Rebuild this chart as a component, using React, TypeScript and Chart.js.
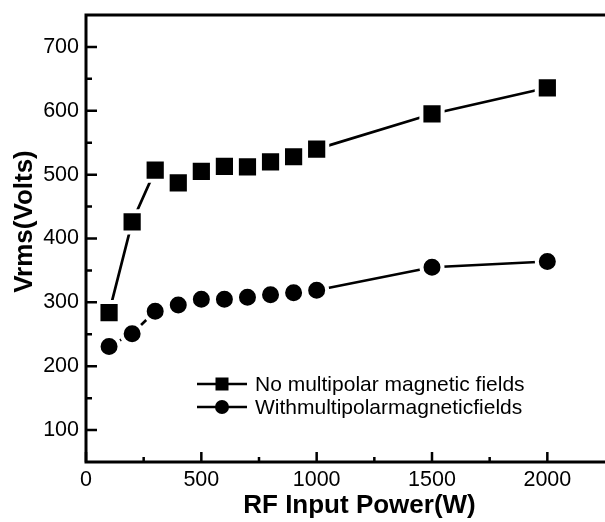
import React, { useEffect, useRef } from "react";
import { Chart, registerables } from "chart.js";

Chart.register(...registerables);

const powerW = [100, 200, 300, 400, 500, 600, 700, 800, 900, 1000, 1500, 2000];
const noMultipolar = [284, 426, 507, 487, 505, 513, 512, 520, 528, 540, 595, 636];
const withMultipolar = [231, 251, 286, 296, 305, 305, 308, 312, 315, 319, 355, 364];
const xMajorTicks = [0, 500, 1000, 1500, 2000];
const xMinorTicks = [250, 750, 1250, 1750];
const yMajorTicks = [100, 200, 300, 400, 500, 600, 700];
const yMinorTicks = [150, 250, 350, 450, 550, 650];
const seriesLabels = ["No multipolar magnetic fields", "Withmultipolarmagneticfields"];
const xTitle = "RF Input Power(W)";
const yTitle = "Vrms(Volts)";

const FONT = "'Liberation Sans', Arial, Helvetica, sans-serif";

const framePlugin = {
  id: "frame",
  afterDraw(chart: any) {
    const { ctx, chartArea, scales } = chart;
    const { left, right, top, bottom } = chartArea;
    const xs = scales.x;
    const ys = scales.y;
    ctx.save();
    ctx.strokeStyle = "#000";
    ctx.lineCap = "butt";
    // ticks (inward)
    ctx.lineWidth = 2.5;
    ctx.beginPath();
    xMajorTicks.forEach((v) => {
      const px = xs.getPixelForValue(v);
      ctx.moveTo(px, bottom);
      ctx.lineTo(px, bottom - 10);
    });
    xMinorTicks.forEach((v) => {
      const px = xs.getPixelForValue(v);
      ctx.moveTo(px, bottom);
      ctx.lineTo(px, bottom - 5);
    });
    yMajorTicks.forEach((v) => {
      const py = ys.getPixelForValue(v);
      ctx.moveTo(left, py);
      ctx.lineTo(left + 11, py);
    });
    yMinorTicks.forEach((v) => {
      const py = ys.getPixelForValue(v);
      ctx.moveTo(left, py);
      ctx.lineTo(left + 6, py);
    });
    ctx.stroke();
    // frame: left, bottom, top
    ctx.lineWidth = 3;
    ctx.beginPath();
    ctx.moveTo(right + 2, top);
    ctx.lineTo(left, top);
    ctx.lineTo(left, bottom);
    ctx.lineTo(right + 2, bottom);
    ctx.stroke();

    // axis titles
    ctx.fillStyle = "#000";
    ctx.font = `bold 26px ${FONT}`;
    ctx.textAlign = "center";
    ctx.textBaseline = "middle";
    ctx.fillText(xTitle, left + (right - left) * 0.527, bottom + 44);
    ctx.save();
    ctx.translate(left - 61.5, top + (bottom - top) * 0.462);
    ctx.rotate(-Math.PI / 2);
    ctx.fillText(yTitle, 0, 0);
    ctx.restore();

    // legend
    const lx = left + 111;
    const rows = [top + 369, top + 392];
    const styles = ["rect", "circle"];
    ctx.font = `21px ${FONT}`;
    ctx.textAlign = "left";
    rows.forEach((ry, i) => {
      ctx.lineWidth = 2.5;
      ctx.beginPath();
      ctx.moveTo(lx, ry);
      ctx.lineTo(lx + 50, ry);
      ctx.stroke();
      ctx.fillStyle = "#000";
      if (styles[i] === "rect") {
        ctx.fillRect(lx + 25 - 6.5, ry - 6.5, 13, 13);
      } else {
        ctx.beginPath();
        ctx.arc(lx + 25, ry, 7, 0, Math.PI * 2);
        ctx.fill();
      }
      ctx.fillText(seriesLabels[i], lx + 58, ry + 1);
    });
    ctx.restore();
  },
};

export default function App() {
  const canvasRef = useRef<HTMLCanvasElement | null>(null);

  useEffect(() => {
    const canvas = canvasRef.current;
    if (!canvas) return;
    const chart = new Chart(canvas, {
      type: "line",
      data: {
        datasets: [
          {
            label: seriesLabels[0],
            data: powerW.map((x, i) => ({ x, y: noMultipolar[i] })),
            borderColor: "#000",
            borderWidth: 2.7,
            backgroundColor: "#000",
            pointStyle: "rect",
            pointRadius: 15,
            pointBorderColor: "#fff",
            pointBorderWidth: 4,
            pointBackgroundColor: "#000",
            tension: 0,
          },
          {
            label: seriesLabels[1],
            data: powerW.map((x, i) => ({ x, y: withMultipolar[i] })),
            borderColor: "#000",
            borderWidth: 2.7,
            backgroundColor: "#000",
            pointStyle: "circle",
            pointRadius: 10.5,
            pointBorderColor: "#fff",
            pointBorderWidth: 4,
            pointBackgroundColor: "#000",
            tension: 0,
          },
        ],
      },
      options: {
        responsive: false,
        animation: false,
        layout: { autoPadding: false, padding: { top: 15, right: 0, left: 0, bottom: 0 } },
        plugins: {
          legend: { display: false },
          tooltip: { enabled: false },
        },
        scales: {
          x: {
            type: "linear",
            min: 0,
            max: 2250,
            grid: { display: false, drawTicks: false },
            border: { display: false },
            afterBuildTicks: (scale: any) => {
              scale.ticks = xMajorTicks.map((v) => ({ value: v }));
            },
            afterFit: (scale: any) => {
              scale.height = 60;
              scale.paddingLeft = 0;
              scale.paddingRight = 0;
            },
            ticks: {
              color: "#000",
              padding: 5,
              font: { family: FONT, size: 21.5 },
              maxRotation: 0,
              autoSkip: false,
              callback: (v: any) => String(v),
            },
          },
          y: {
            type: "linear",
            min: 50,
            max: 750,
            grid: { display: false, drawTicks: false },
            border: { display: false },
            afterBuildTicks: (scale: any) => {
              scale.ticks = yMajorTicks.map((v) => ({ value: v }));
            },
            afterFit: (scale: any) => {
              scale.width = 86;
              scale.paddingTop = 0;
              scale.paddingBottom = 0;
            },
            ticks: {
              color: "#000",
              padding: 7,
              font: { family: FONT, size: 21.5 },
              autoSkip: false,
              callback: (v: any) => String(v),
            },
          },
        },
      },
      plugins: [framePlugin],
    });
    return () => chart.destroy();
  }, []);

  return (
    <div style={{ position: "absolute", left: 0, top: 0, width: 605, height: 522, background: "#fff" }}>
      <canvas ref={canvasRef} width={605} height={522} style={{ display: "block" }} />
    </div>
  );
}
